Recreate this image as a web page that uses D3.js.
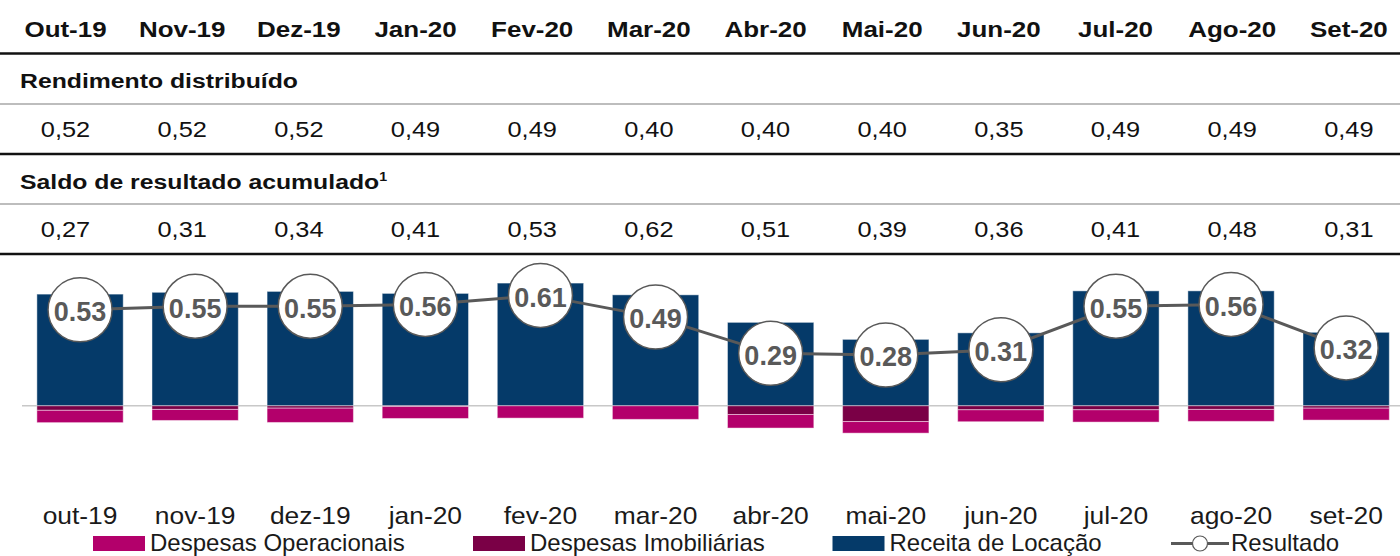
<!DOCTYPE html>
<html>
<head>
<meta charset="utf-8">
<script src="https://cdn.jsdelivr.net/npm/d3@7"></script>
<style>
  body { margin: 0; background: #fff; }
  svg { display: block; font-family: "Liberation Sans", Arial, sans-serif; }
</style>
</head>
<body>
<div id="chart"></div>
<script>
// data
var months = ["out-19","nov-19","dez-19","jan-20","fev-20","mar-20","abr-20","mai-20","jun-20","jul-20","ago-20","set-20"];
var rendimento = [0.52,0.52,0.52,0.49,0.49,0.40,0.40,0.40,0.35,0.49,0.49,0.49];
var saldo = [0.27,0.31,0.34,0.41,0.53,0.62,0.51,0.39,0.36,0.41,0.48,0.31];
var receita = [0.617,0.627,0.632,0.621,0.678,0.613,0.461,0.367,0.403,0.635,0.635,0.406];
var despImob = [0.025,0.020,0.013,0.004,0,0,0.048,0.087,0.022,0.022,0.020,0.013];
var despOper = [0.068,0.061,0.079,0.066,0.068,0.075,0.075,0.064,0.066,0.068,0.066,0.066];
var resultado = [0.53,0.55,0.55,0.56,0.61,0.49,0.29,0.28,0.31,0.55,0.56,0.32];
var legendItems = ["Despesas Operacionais","Despesas Imobiliárias","Receita de Locação","Resultado"];

var w = 1400, h = 556;
var navy = "#053a69", pink = "#b3006b", wine = "#7a0046", grey = "#595959";
var stretch = 1.18;

var header = months.map(function(m){ return m.charAt(0).toUpperCase() + m.slice(1); });
var comma = function(v){ return d3.format(".2f")(v).replace(".", ","); };

var svg = d3.select("#chart").append("svg")
  .attr("width", w)
  .attr("height", h);

// ---- table on top ----
var col = d3.scaleBand().domain(months).range([7.2, 1407.2]);
var colX = function(m){ return col(m) + col.bandwidth()/2; };

function rowText(vals, y, bold, size) {
  svg.append("g").selectAll("text")
    .data(vals)
    .enter().append("text")
      .attr("transform", function(d, i){ return "translate(" + colX(months[i]) + "," + y + ") scale(" + stretch + ",1)"; })
      .attr("text-anchor", "middle")
      .attr("font-size", size)
      .attr("font-weight", bold ? "bold" : "normal")
      .attr("fill", "#111")
      .text(function(d){ return d; });
}
rowText(header, 36.5, true, 22);
rowText(rendimento.map(comma), 137, false, 21.5);
rowText(saldo.map(comma), 237, false, 21.5);

svg.append("text")
  .attr("transform", "translate(20,87.5) scale(" + stretch + ",1)")
  .attr("font-size", 21).attr("font-weight", "bold").attr("fill", "#111")
  .text("Rendimento distribuído");
var st = svg.append("text")
  .attr("transform", "translate(20,188.5) scale(" + stretch + ",1)")
  .attr("font-size", 21).attr("font-weight", "bold").attr("fill", "#111")
  .text("Saldo de resultado acumulado");
st.append("tspan").attr("font-size", 12).attr("dy", -8).text("1");

var rules = [[53.5,"#111",2.5],[104,"#bdbdbd",2],[154,"#111",2.5],[204,"#bdbdbd",2],[254,"#111",2.5]];
svg.append("g").selectAll("line")
  .data(rules)
  .enter().append("line")
    .attr("x1", 0).attr("x2", w)
    .attr("y1", function(d){ return d[0]; })
    .attr("y2", function(d){ return d[0]; })
    .attr("stroke", function(d){ return d[1]; })
    .attr("stroke-width", function(d){ return d[2]; });

// ---- bars + line ----
var x = d3.scaleBand().domain(months).range([22.5, 1403.7]).paddingInner(0.25).paddingOuter(0.125);
var y = d3.scaleLinear().domain([-0.3, 0.7]).range([460.1, 279.1]);
var cx = function(i){ return x(months[i]) + x.bandwidth()/2; };

svg.append("line")
  .attr("x1", 22).attr("x2", w)
  .attr("y1", y(0)).attr("y2", y(0))
  .attr("stroke", "#c8c8c8").attr("stroke-width", 1.5);

var edge = "rgba(255,255,255,0.45)";
svg.append("g").selectAll("rect")
  .data(receita)
  .enter().append("rect")
    .attr("x", function(d, i){ return x(months[i]); })
    .attr("width", x.bandwidth())
    .attr("y", function(d){ return y(d); })
    .attr("height", function(d){ return y(0) - y(d); })
    .attr("fill", navy).attr("stroke", edge).attr("stroke-width", 1);

svg.append("g").selectAll("rect")
  .data(despImob)
  .enter().append("rect")
    .attr("x", function(d, i){ return x(months[i]); })
    .attr("width", x.bandwidth())
    .attr("y", y(0))
    .attr("height", function(d){ return y(-d) - y(0); })
    .attr("fill", wine).attr("stroke", edge).attr("stroke-width", 1);

svg.append("g").selectAll("rect")
  .data(despOper)
  .enter().append("rect")
    .attr("x", function(d, i){ return x(months[i]); })
    .attr("width", x.bandwidth())
    .attr("y", function(d, i){ return y(-despImob[i]); })
    .attr("height", function(d, i){ return y(-despImob[i] - d) - y(-despImob[i]); })
    .attr("fill", pink).attr("stroke", edge).attr("stroke-width", 1);

var line = d3.line()
  .x(function(d, i){ return cx(i); })
  .y(function(d){ return y(d); });
svg.append("path")
  .datum(resultado)
  .attr("d", line)
  .attr("fill", "none").attr("stroke", grey).attr("stroke-width", 3);

var dots = svg.append("g").selectAll("g")
  .data(resultado)
  .enter().append("g")
    .attr("transform", function(d, i){ return "translate(" + cx(i) + "," + y(d) + ")"; });
dots.append("circle")
  .attr("r", 32)
  .attr("fill", "#fff").attr("stroke", grey).attr("stroke-width", 1.5);
dots.append("text")
  .attr("text-anchor", "middle")
  .attr("dy", "0.42em")
  .attr("font-size", 27).attr("font-weight", "bold").attr("fill", grey)
  .text(function(d){ return d3.format(".2f")(d); });

// x axis labels
var xAxis = svg.append("g")
  .attr("transform", "translate(0,507)")
  .call(d3.axisBottom(x).tickSize(0));
xAxis.select(".domain").remove();
xAxis.selectAll("text")
  .attr("y", 0).attr("dy", "0.71em")
  .attr("transform", "scale(1.1,1)")
  .attr("font-size", 24)
  .attr("font-family", "Liberation Sans, Arial, sans-serif")
  .attr("fill", "#1a1a1a");

// legend
var legend = svg.append("g");
var swatches = [[93, pink], [473, wine], [832.5, navy]];
swatches.forEach(function(s, i){
  legend.append("rect")
    .attr("x", s[0]).attr("y", 536)
    .attr("width", 52).attr("height", 15)
    .attr("fill", s[1]);
  legend.append("text")
    .attr("x", s[0] + 57).attr("y", 551)
    .attr("font-size", 24).attr("fill", "#1a1a1a")
    .text(legendItems[i]);
});
legend.append("line")
  .attr("x1", 1171).attr("x2", 1229)
  .attr("y1", 543.5).attr("y2", 543.5)
  .attr("stroke", grey).attr("stroke-width", 3);
legend.append("circle")
  .attr("cx", 1200).attr("cy", 543.5).attr("r", 7.5)
  .attr("fill", "#fff").attr("stroke", grey).attr("stroke-width", 1.2);
legend.append("text")
  .attr("x", 1231).attr("y", 551)
  .attr("font-size", 24).attr("fill", "#1a1a1a")
  .text(legendItems[3]);
</script>
</body>
</html>
